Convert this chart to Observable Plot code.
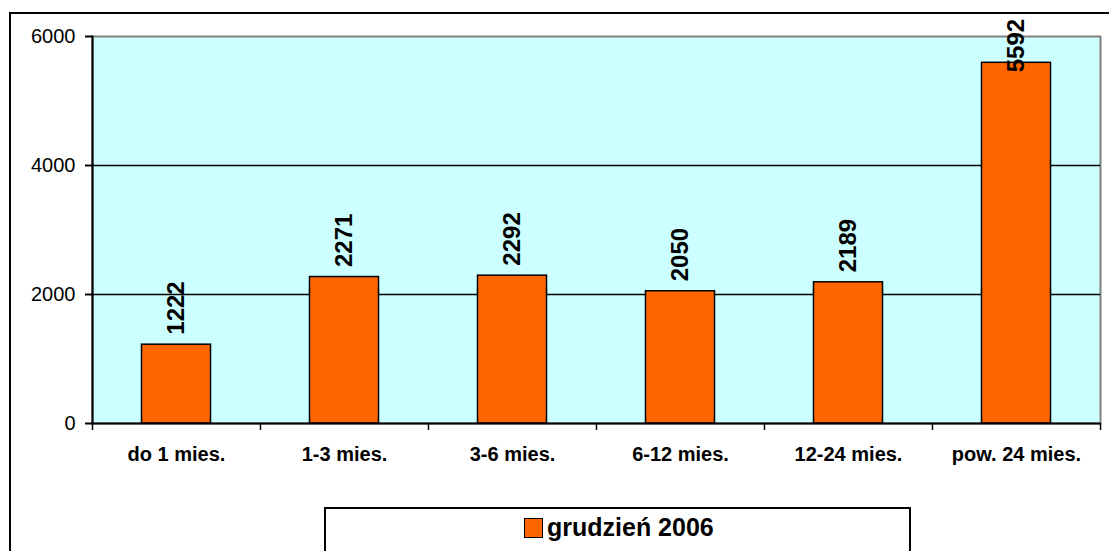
<!DOCTYPE html>
<html>
<head>
<meta charset="utf-8">
<script src="https://cdn.jsdelivr.net/npm/d3@7"></script>
<script src="https://cdn.jsdelivr.net/npm/@observablehq/plot@0.6"></script>
<style>
  html, body { margin: 0; padding: 0; background: #fff; }
  #wrap { position: relative; width: 1109px; height: 551px; overflow: hidden; font-family: "Liberation Sans", Arial, sans-serif; }
  #chart { position: absolute; left: 0; top: 0; }
  #outer { position: absolute; left: 9px; top: 12px; width: 1300px; height: 800px; border: 2px solid #000; pointer-events: none; }
  #legend { position: absolute; left: 324px; top: 507px; width: 583px; height: 100px; border: 2px solid #000; background: #fff; }
  #legend .sw { position: absolute; left: 198px; top: 9px; width: 17px; height: 18px; background: #FF6600; border: 1.5px solid #000; }
  #legend .lb { position: absolute; left: 221px; top: 3px; font-weight: bold; font-size: 25px; line-height: 30px; color: #000; }
</style>
</head>
<body>
<div id="wrap">
  <div id="chart"></div>
  <div id="outer"></div>
  <div id="legend"><div class="sw"></div><div class="lb" id="legendLabel"></div></div>
</div>
<script>
const categories = ["do 1 mies.", "1-3 mies.", "3-6 mies.", "6-12 mies.", "12-24 mies.", "pow. 24 mies."];
const values = [1222, 2271, 2292, 2050, 2189, 5592];
const seriesName = "grudzień 2006";
const yTicks = [0, 2000, 4000, 6000];

const data = categories.map((c, i) => ({cat: c, v: values[i]}));
document.getElementById("legendLabel").textContent = seriesName;

const chart = Plot.plot({
  width: 1109,
  height: 551,
  marginLeft: 92,
  marginRight: 9,
  marginTop: 36,
  marginBottom: 128,
  style: {background: "transparent", overflow: "visible", fontFamily: "'Liberation Sans', Arial, sans-serif", color: "#000"},
  x: {domain: categories, padding: 0, label: null},
  y: {domain: [0, 6000], label: null},
  marks: [
    Plot.frame({fill: "#CCFFFF", stroke: "#808080", strokeWidth: 2}),
    Plot.ruleY([2000, 4000], {stroke: "#000", strokeWidth: 1.5}),
    Plot.barY(data, {x: "cat", y: "v", fill: "#FF6600", stroke: "#000", strokeWidth: 1.5, insetLeft: 49.5, insetRight: 49.5}),
    Plot.ruleY([0], {stroke: "#000", strokeWidth: 2}),
    Plot.frame({anchor: "left", stroke: "#000", strokeWidth: 2}),
    Plot.axisY({ticks: yTicks, tickFormat: d3.format("d"), tickSize: 7, tickPadding: 10, fontSize: 20, strokeWidth: 2, label: null}),
    Plot.axisX({text: null, tickSize: 7, dx: -84, strokeWidth: 1.5, label: null}),
    Plot.axisX({ticks: [categories[categories.length - 1]], text: null, tickSize: 7, dx: 84, strokeWidth: 1.5, label: null}),
    Plot.axisX({tickSize: 0, tickPadding: 23, fontSize: 20, fontWeight: "bold", label: null, style: "letter-spacing: 0.4px"}),
    Plot.text(data, {
      x: "cat",
      y: d => Math.min(d.v, 5290),
      text: d => String(d.v),
      rotate: -90,
      textAnchor: "start",
      dy: -10,
      fontSize: 24,
      fontWeight: "bold",
      fill: "#000"
    })
  ]
});
document.getElementById("chart").appendChild(chart);
</script>
</body>
</html>
